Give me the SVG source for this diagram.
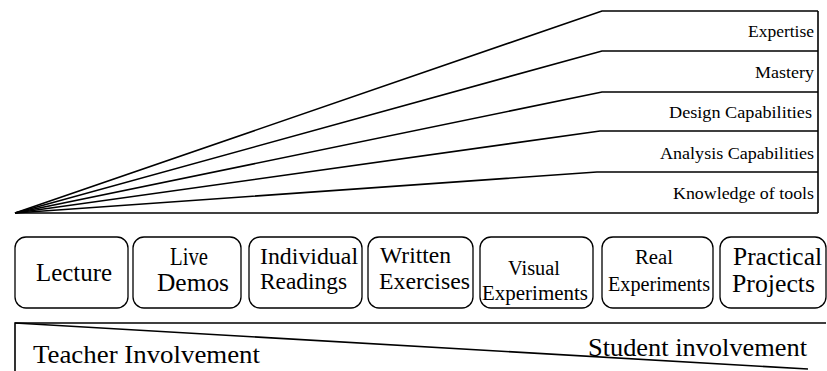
<svg xmlns="http://www.w3.org/2000/svg" width="827" height="371" viewBox="0 0 827 371" font-family="'Liberation Serif', 'Times New Roman', serif">
<style>
  .ln { stroke:#000; stroke-width:1.6; fill:none; }
  .box { stroke:#000; stroke-width:1.3; fill:#fff; }
  text { font-family:"Liberation Serif","Times New Roman",serif; fill:#000; }
  .lvl { font-size:17.5px; }
</style>
<rect width="827" height="371" fill="#fff"/>
<g id="connectors">
  <polyline class="ln" points="15,213 602,11 818,11"/>
  <polyline class="ln" points="15,213 602,51 818,51"/>
  <polyline class="ln" points="15,213 602,92 818,92"/>
  <polyline class="ln" points="15,213 600,131 818,131"/>
  <polyline class="ln" points="15,213 597,172 818,172"/>
  <line class="ln" x1="15" y1="213" x2="818" y2="213"/>
  <line class="ln" x1="818" y1="11" x2="818" y2="213"/>
</g>
<g id="levels">
  <text class="lvl" x="748" y="37" textLength="66" lengthAdjust="spacingAndGlyphs">Expertise</text>
  <text class="lvl" x="755" y="78" textLength="59" lengthAdjust="spacingAndGlyphs">Mastery</text>
  <text class="lvl" x="669" y="118" textLength="143" lengthAdjust="spacingAndGlyphs">Design Capabilities</text>
  <text class="lvl" x="660" y="159" textLength="154" lengthAdjust="spacingAndGlyphs">Analysis Capabilities</text>
  <text class="lvl" x="673" y="199" textLength="141" lengthAdjust="spacingAndGlyphs">Knowledge of tools</text>
</g>
<g id="lecture">
  <rect class="box" x="15" y="237" width="113" height="71" rx="11"/>
  <text x="36" y="281" font-size="25" textLength="76" lengthAdjust="spacingAndGlyphs">Lecture</text>
</g>
<g id="live-demos">
  <rect class="box" x="133" y="237" width="108" height="71" rx="11"/>
  <text x="170" y="265" font-size="25" textLength="38" lengthAdjust="spacingAndGlyphs">Live</text>
  <text x="157" y="291" font-size="25" textLength="72" lengthAdjust="spacingAndGlyphs">Demos</text>
</g>
<g id="individual-readings">
  <rect class="box" x="249" y="237" width="113" height="71" rx="11"/>
  <text x="260" y="264" font-size="23.5" textLength="98" lengthAdjust="spacingAndGlyphs">Individual</text>
  <text x="260" y="289" font-size="23.5" textLength="87" lengthAdjust="spacingAndGlyphs">Readings</text>
</g>
<g id="written-exercises">
  <rect class="box" x="368" y="237" width="105" height="71" rx="11"/>
  <text x="380" y="263" font-size="23.5" textLength="71" lengthAdjust="spacingAndGlyphs">Written</text>
  <text x="379" y="289" font-size="23.5" textLength="91" lengthAdjust="spacingAndGlyphs">Exercises</text>
</g>
<g id="visual-experiments">
  <rect class="box" x="480" y="237" width="113" height="71" rx="11"/>
  <text x="508" y="275" font-size="20.5" textLength="52" lengthAdjust="spacingAndGlyphs">Visual</text>
  <text x="482" y="300" font-size="20.5" textLength="106" lengthAdjust="spacingAndGlyphs">Experiments</text>
</g>
<g id="real-experiments">
  <rect class="box" x="602" y="237" width="111" height="71" rx="11"/>
  <text x="635" y="264" font-size="20" textLength="38" lengthAdjust="spacingAndGlyphs">Real</text>
  <text x="608" y="291" font-size="20" textLength="102" lengthAdjust="spacingAndGlyphs">Experiments</text>
</g>
<g id="practical-projects">
  <rect class="box" x="720" y="237" width="106" height="71" rx="11"/>
  <text x="733" y="265" font-size="25" textLength="89" lengthAdjust="spacingAndGlyphs">Practical</text>
  <text x="732" y="292" font-size="25" textLength="83" lengthAdjust="spacingAndGlyphs">Projects</text>
</g>
<g id="involvement">
  <polyline class="ln" points="15,371 15,323 826,323" stroke-width="1.3"/>
  <line class="ln" x1="15" y1="323" x2="808" y2="369" stroke-width="1.3"/>
  <text x="33" y="363" font-size="26" textLength="227" lengthAdjust="spacingAndGlyphs">Teacher Involvement</text>
  <text x="588" y="356" font-size="26" textLength="219" lengthAdjust="spacingAndGlyphs">Student involvement</text>
</g>
</svg>
